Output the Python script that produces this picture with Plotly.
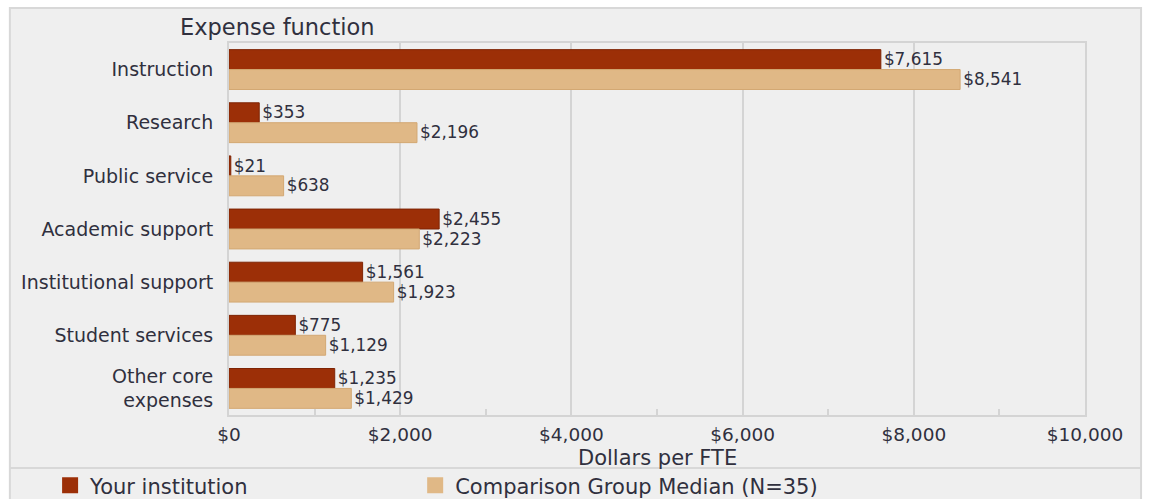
import plotly.graph_objects as go

categories = ['Instruction', 'Research', 'Public service', 'Academic support',
              'Institutional support', 'Student services', 'Other core<br>expenses']
your_institution = [7615, 353, 21, 2455, 1561, 775, 1235]
comparison_median = [8541, 2196, 638, 2223, 1923, 1129, 1429]
x_ticks = [0, 2000, 4000, 6000, 8000, 10000]
x_tick_labels = ['$0', '$2,000', '$4,000', '$6,000', '$8,000', '$10,000']

FONT = 'DejaVu Sans, Arial, sans-serif'
TEXT = '#30303e'
RED = '#9c2f07'
TAN = '#e0b886'
GRID = '#d4d4d4'

fig = go.Figure()
fig.add_trace(go.Bar(
    y=categories, x=your_institution, orientation='h', name='Your institution',
    marker=dict(color=RED, line=dict(color='#7e2404', width=1)), showlegend=False,
    texttemplate='$%{x:,}', textposition='outside', cliponaxis=False,
    textfont=dict(family=FONT, size=19.5, color=TEXT),
))
fig.add_trace(go.Bar(
    y=categories, x=comparison_median, orientation='h', name='Comparison Group Median (N=35)',
    marker=dict(color=TAN, line=dict(color='#d3a873', width=1)), showlegend=False,
    texttemplate='$%{x:,}', textposition='outside', cliponaxis=False,
    textfont=dict(family=FONT, size=19.5, color=TEXT),
))

# legend swatches (bigger squares than the default bar swatch)
fig.add_trace(go.Scatter(x=[None], y=[None], mode='markers', name='Your institution',
                         marker=dict(symbol='square', size=20, color=RED), legend='legend'))
fig.add_trace(go.Scatter(x=[None], y=[None], mode='markers', name='Comparison Group Median (N=35)',
                         marker=dict(symbol='square', size=20, color=TAN), legend='legend2'))

# panel frame and legend separator (paper coords)
fig.add_shape(type='rect', xref='paper', yref='paper', x0=-0.256, x1=1.0655, y0=-0.35, y1=1.094,
              fillcolor='#efefef', line=dict(color='#d8d8d8', width=2), layer='below')
fig.add_shape(type='line', xref='paper', yref='paper', x0=-0.256, x1=1.0655, y0=-0.1425, y1=-0.1425,
              line=dict(color='#d8d8d8', width=2), layer='below')

fig.add_annotation(text='Expense function', xref='paper', yref='paper', x=0.057, y=1.043,
                   xanchor='center', yanchor='middle', showarrow=False,
                   font=dict(family=FONT, size=22.5, color=TEXT))
fig.add_annotation(text='Dollars per FTE', xref='paper', yref='paper', x=0.5, y=-0.115,
                   xanchor='center', yanchor='middle', showarrow=False,
                   font=dict(family=FONT, size=21, color=TEXT))

legend_style = dict(orientation='h', y=-0.19, xanchor='left', yanchor='middle',
                    font=dict(family=FONT, size=21, color=TEXT), bgcolor='rgba(0,0,0,0)',
                    itemsizing='trace')

fig.update_layout(
    width=1151, height=499,
    margin=dict(l=229, r=66, t=43, b=84, autoexpand=False),
    paper_bgcolor='white', plot_bgcolor='rgba(0,0,0,0)',
    barmode='group', bargap=0.25, bargroupgap=0,
    font=dict(family=FONT, color=TEXT),
    legend=dict(x=-0.209, **legend_style),
    legend2=dict(x=0.2175, **legend_style),
    xaxis=dict(range=[0, 10000], tickvals=x_ticks, ticktext=x_tick_labels,
               showgrid=True, gridcolor=GRID, gridwidth=2, zeroline=False,
               showline=True, linecolor=GRID, linewidth=2, mirror=True,
               ticks='inside', ticklen=6, tickcolor=GRID, tickwidth=2,
               minor=dict(dtick=1000, ticks='inside', ticklen=6, tickcolor=GRID, tickwidth=2,
                          showgrid=False),
               ticklabelstandoff=2,
               tickfont=dict(family=FONT, size=18.5, color=TEXT)),
    yaxis=dict(autorange='reversed', showgrid=False, ticks='',
               showline=True, linecolor=GRID, linewidth=2, mirror=True,
               ticklabelstandoff=10,
               tickfont=dict(family=FONT, size=19, color=TEXT)),
)

# the page body has a default 8px margin; drop it so the figure fills the window
fig.write_html('out.html', config={'displayModeBar': False},
               post_script="document.body.style.margin='0';")
